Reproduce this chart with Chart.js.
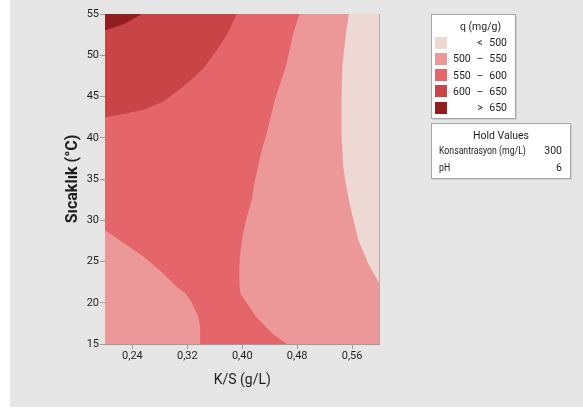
<!DOCTYPE html>
<html>
<head>
<meta charset="utf-8">
<script src="https://cdn.jsdelivr.net/npm/chart.js@4.4.1/dist/chart.umd.min.js"></script>
<style>
  html, body { margin: 0; padding: 0; background: #fff; }
  body { width: 583px; height: 414px; position: relative; overflow: hidden; font-family: Roboto, "Noto Sans", sans-serif; color: #1e1e1e; }
  #panel { position: absolute; left: 10px; top: 0; width: 573px; height: 407px; background: #e6e6e6; }
  #chart { position: absolute; left: 0; top: 0; }
  .box { position: absolute; background: #fff; border: 1px solid #a8a8a8; box-shadow: 1px 1px 0 #d0d0d0; font-size: 10.5px; }
  .box div { position: absolute; line-height: 13px; white-space: nowrap; }
  .sw { width: 12px; height: 12px; }
  .narrow { transform: scaleX(0.83); transform-origin: left center; }
</style>
</head>
<body>
<div id="panel">
  <canvas id="chart" width="573" height="407"></canvas>
  <div class="box" id="levelBox" style="left:421px; top:14px; width:83px; height:103px;"></div>
  <div class="box" id="holdBox" style="left:421px; top:123px; width:138px; height:54px;"></div>
</div>
<script>
// axis ranges and ticks
const xMin = 0.2, xMax = 0.6, yMin = 15, yMax = 55;
const xTicks = [0.24, 0.32, 0.40, 0.48, 0.56];
const yTicks = [15, 20, 25, 30, 35, 40, 45, 50, 55];

// legend
const levelLabels = [["", "<", "500"], ["500", "–", "550"], ["550", "–", "600"], ["600", "–", "650"], ["", ">", "650"]];
const levelColors = ["#eed8d4", "#ec9898", "#e5666a", "#c84446", "#921d20"];
const holdNames = ["Konsantrasyon (mg/L)", "pH"];
const holdValues = [300, 6];

// contour lines, [K/S, Sıcaklık]
const contour500 = [[0.5555, 55], [0.5511, 52.6], [0.5457, 48.6], [0.5446, 44.5], [0.5446, 40.5], [0.5473, 36.5],
  [0.5499, 34.9], [0.5555, 32.4], [0.5596, 30.9], [0.5692, 27.6], [0.5834, 24.8], [0.6, 22.3]];
const contour550Right = [[0.4835, 55], [0.4743, 52.6], [0.4635, 48.6], [0.4554, 46.6], [0.4472, 44.5], [0.4355, 40.5],
  [0.4283, 38.5], [0.4229, 36.5], [0.4175, 34.4], [0.4137, 32.4], [0.4067, 30.4], [0.4013, 28.4], [0.3975, 26.3],
  [0.3958, 24.3], [0.3958, 22.3], [0.3975, 21.1], [0.4040, 20.3], [0.4202, 18.3], [0.4445, 16.2], [0.465, 15]];
const contour550Left = [[0.2, 28.8], [0.2316, 27.0], [0.2558, 25.6], [0.2802, 23.9], [0.3045, 21.9], [0.3166, 21.2],
  [0.3264, 20.0], [0.336, 18.3], [0.3385, 17.1], [0.3385, 15]];
const contour600 = [[0.2, 42.5], [0.2292, 42.9], [0.2558, 43.4], [0.285, 44.4], [0.3141, 46.2], [0.3433, 48.4],
  [0.3628, 50.6], [0.3774, 52.45], [0.392, 55]];
const contour650 = [[0.2, 53.0], [0.2292, 53.85], [0.2535, 55]];

// filled regions (q above each level), built from the contours and the plot edges
const regions = [
  [[xMin, yMin], [xMax, yMin], [xMax, yMax], [xMin, yMax]],
  [[xMin, yMin], [xMax, yMin], ...contour500.slice().reverse(), [xMin, yMax]],
  [...contour550Left, ...contour550Right.slice().reverse(), [xMin, yMax]],
  [...contour600, [xMin, yMax]],
  [...contour650, [xMin, yMax]]
];

const toPoints = (arr) => arr.map(p => ({ x: p[0], y: p[1] }));
const datasets = regions.map((r, i) => ({
  data: toPoints(r),
  showLine: true,
  fill: 'shape',
  backgroundColor: levelColors[i],
  borderWidth: 0,
  borderColor: 'transparent',
  pointRadius: 0,
  xAxisID: 'x',
  yAxisID: 'y',
  order: regions.length - i
}));

const axisGrey = '#9c9c9c';
const tickFont = { family: 'Roboto', size: 11 };

new Chart(document.getElementById('chart'), {
  type: 'scatter',
  data: { datasets: datasets },
  options: {
    responsive: false,
    animation: false,
    devicePixelRatio: 1,
    layout: { padding: { top: 14, right: 203.5, bottom: 0, left: 0 } },
    plugins: { legend: { display: false }, tooltip: { enabled: false } },
    scales: {
      x: {
        type: 'linear', position: 'bottom', min: xMin, max: xMax,
        afterBuildTicks: (s) => { s.ticks = xTicks.map(v => ({ value: v })); },
        afterFit: (s) => { s.height = 63; },
        ticks: { font: tickFont, color: '#1e1e1e', padding: 1, maxRotation: 0,
          callback: (v) => v.toFixed(2).replace('.', ',') },
        grid: { drawOnChartArea: false, color: axisGrey, tickLength: 5 },
        border: { color: axisGrey },
        title: { display: true, text: 'K/S (g/L)', color: '#1e1e1e',
          font: { family: 'Roboto', size: 14 }, padding: { top: 0, bottom: 18.6 } }
      },
      y: {
        type: 'linear', position: 'left', min: yMin, max: yMax,
        afterBuildTicks: (s) => { s.ticks = yTicks.map(v => ({ value: v })); },
        afterFit: (s) => { s.width = 95; },
        ticks: { font: tickFont, color: '#1e1e1e', padding: 1 },
        grid: { drawOnChartArea: false, color: axisGrey, tickLength: 5 },
        border: { color: axisGrey },
        title: { display: true, text: 'Sıcaklık (°C)', color: '#1e1e1e',
          font: { family: 'Roboto', size: 16, weight: 'bold' }, padding: { top: 53, bottom: 0 } }
      },
      x2: {
        type: 'linear', position: 'top', min: xMin, max: xMax,
        ticks: { display: false }, grid: { display: false, drawTicks: false },
        border: { color: axisGrey },
        afterFit: (s) => { s.height = 0; }
      },
      y2: {
        type: 'linear', position: 'right', min: yMin, max: yMax,
        ticks: { display: false }, grid: { display: false, drawTicks: false },
        border: { color: axisGrey },
        afterFit: (s) => { s.width = 0; }
      }
    }
  }
});

// legend boxes
const levelBox = document.getElementById('levelBox');
let html = '<div style="left:0; width:97px; top:5px; text-align:center;">q (mg/g)</div>';
levelLabels.forEach((lab, i) => {
  const cy = 27.7 + i * 16.25;
  html += '<div class="sw" style="left:3px; top:' + (cy - 6) + 'px; background:' + levelColors[i] + ';"></div>';
  html += '<div style="left:21px; top:' + (cy - 6.5) + 'px;">' + lab[0] + '</div>';
  html += '<div style="left:42px; width:12px; text-align:center; top:' + (cy - 6.5) + 'px;">' + lab[1] + '</div>';
  html += '<div style="right:8px; top:' + (cy - 6.5) + 'px;">' + lab[2] + '</div>';
});
levelBox.innerHTML = html;

const holdBox = document.getElementById('holdBox');
let h2 = '<div style="left:0; width:138px; top:4.5px; text-align:center;">Hold Values</div>';
holdNames.forEach((n, i) => {
  const cy = 26.3 + i * 16.7;
  h2 += '<div class="narrow" style="left:7px; top:' + (cy - 6.5) + 'px;">' + n + '</div>';
  h2 += '<div style="right:8px; top:' + (cy - 6.5) + 'px;">' + holdValues[i] + '</div>';
});
holdBox.innerHTML = h2;
</script>
</body>
</html>
